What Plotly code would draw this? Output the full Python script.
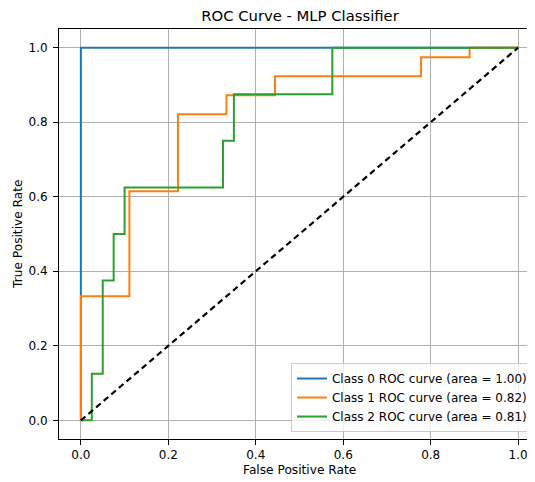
import plotly.graph_objects as go

# ROC data
class0_fpr = [0.0, 0.0, 1.0]
class0_tpr = [0.0, 1.0, 1.0]
class0_auc = 1.00

class1_fpr = [0.0, 0.0, 0.111, 0.111, 0.222, 0.222, 0.333, 0.333, 0.444, 0.444, 0.778, 0.778, 0.889, 0.889, 1.0]
class1_tpr = [0.0, 0.333, 0.333, 0.615, 0.615, 0.821, 0.821, 0.872, 0.872, 0.923, 0.923, 0.974, 0.974, 1.0, 1.0]
class1_auc = 0.82

class2_fpr = [0.0, 0.025, 0.025, 0.05, 0.05, 0.075, 0.075, 0.1, 0.1, 0.325, 0.325, 0.35, 0.35, 0.575, 0.575, 1.0]
class2_tpr = [0.0, 0.0, 0.125, 0.125, 0.375, 0.375, 0.5, 0.5, 0.625, 0.625, 0.75, 0.75, 0.875, 0.875, 1.0, 1.0]
class2_auc = 0.81

chance_x = [0.0, 1.0]
chance_y = [0.0, 1.0]

tick_vals = [0.0, 0.2, 0.4, 0.6, 0.8, 1.0]
tick_text = ["0.0", "0.2", "0.4", "0.6", "0.8", "1.0"]

colors = ["#1f77b4", "#ff7f0e", "#2ca02c"]
FONT = "DejaVu Sans"

fig = go.Figure()
series = [
    (class0_fpr, class0_tpr, class0_auc, 0),
    (class1_fpr, class1_tpr, class1_auc, 1),
    (class2_fpr, class2_tpr, class2_auc, 2),
]
for fpr, tpr, auc, i in series:
    fig.add_trace(go.Scatter(
        x=fpr, y=tpr, mode="lines",
        line=dict(color=colors[i], width=2),
        name=f"Class {i} ROC curve (area = {auc:.2f})",
    ))
fig.add_trace(go.Scatter(
    x=chance_x, y=chance_y, mode="lines",
    line=dict(color="black", width=2.2, dash="6px,4px"),
    showlegend=False,
))

# note: the page body has an 8px default margin, margins below compensate
fig.update_layout(
    width=535, height=482,
    margin=dict(l=51, r=3, t=21, b=51, autoexpand=False),
    paper_bgcolor="white", plot_bgcolor="white",
    font=dict(family=FONT, size=12, color="black"),
    title=dict(text="ROC Curve - MLP Classifier", x=(300 - 8) / 535, xanchor="center",
               xref="container", y=1 - (16 - 8) / 482, yanchor="middle",
               font=dict(size=14.8, family=FONT)),
    legend=dict(x=0.9854, y=0.017, xanchor="right", yanchor="bottom",
                bgcolor="rgba(255,255,255,0.8)", bordercolor="#cccccc", borderwidth=1,
                font=dict(size=12, family=FONT), itemwidth=30,
                tracegroupgap=0),
    showlegend=True,
    annotations=[
        dict(text="False Positive Rate", xref="paper", yref="paper",
             x=0.5, y=-(470 - 439) / 410, xanchor="center", yanchor="middle",
             showarrow=False, font=dict(size=12.2, family=FONT)),
        dict(text="True Positive Rate", xref="paper", yref="paper",
             x=-(59 - 18) / 481, y=0.5, xanchor="center", yanchor="middle",
             textangle=-90, showarrow=False, font=dict(size=12.2, family=FONT)),
    ],
)
fig.update_xaxes(
    range=[-0.05, 1.05], tickvals=tick_vals, ticktext=tick_text,
    showgrid=True, gridcolor="#b0b0b0", gridwidth=0.8, zeroline=False,
    showline=True, linecolor="black", linewidth=1, mirror=True,
    ticks="outside", ticklen=5, tickcolor="black", automargin=False,
)
fig.update_yaxes(
    range=[-0.05, 1.05], tickvals=tick_vals, ticktext=tick_text,
    showgrid=True, gridcolor="#b0b0b0", gridwidth=0.8, zeroline=False,
    showline=True, linecolor="black", linewidth=1, mirror=True,
    ticks="outside", ticklen=5, tickcolor="black", automargin=False,
    ticklabelstandoff=3,
)

fig.write_html("out.html")
